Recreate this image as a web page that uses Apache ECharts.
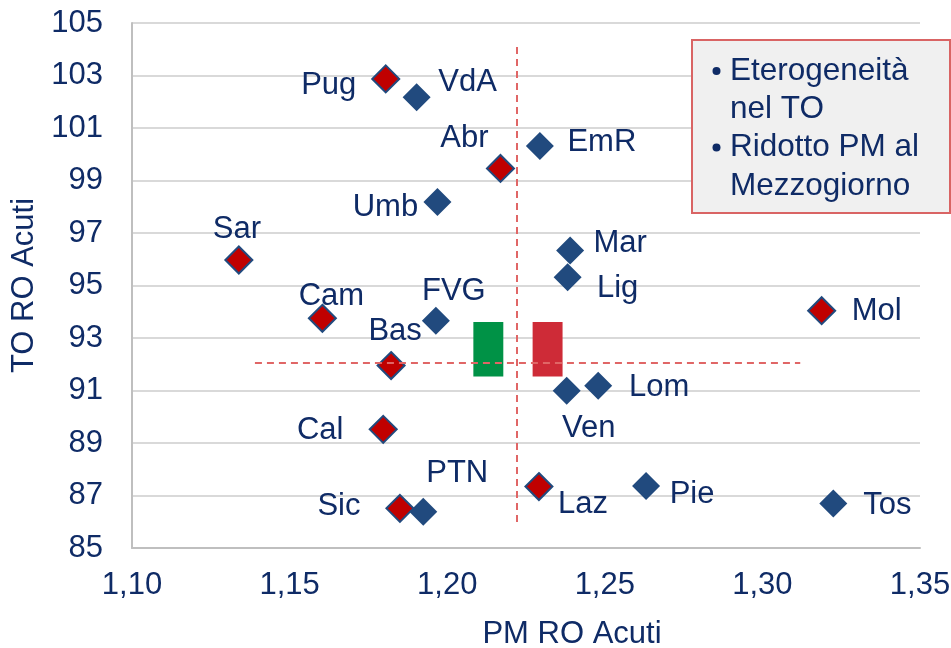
<!DOCTYPE html>
<html>
<head>
<meta charset="utf-8">
<script src="https://cdn.jsdelivr.net/npm/echarts@6/dist/echarts.min.js"></script>
<style>
html,body{margin:0;padding:0;background:#fff;overflow:hidden;}
#c{width:951px;height:648px;}
</style>
</head>
<body>
<div id="c"></div>
<script>
// ---- data ----
var regions = ['Pug','VdA','Abr','EmR','Umb','Sar','Mar','Lig','Cam','FVG','Mol','Bas','Ven','Lom','Cal','Laz','Pie','Tos','Sic','PTN'];
var pmRO    = [1.1805,1.1903,1.2169,1.2294,1.1969,1.1339,1.2390,1.2382,1.1604,1.1964,1.3188,1.1822,1.2379,1.2479,1.1797,1.2291,1.2631,1.3225,1.1850,1.1924];
var toRO    = [102.87,102.17,99.46,100.31,98.18,95.97,96.33,95.31,93.75,93.66,94.04,91.95,90.99,91.18,89.52,87.34,87.36,86.70,86.51,86.38];
var mezzogiorno = ['Pug','Abr','Sar','Cam','Mol','Bas','Cal','Laz','Sic'];
var xTickLabels = ['1,10','1,15','1,20','1,25','1,30','1,35'];
var yTickLabels = ['85','87','89','91','93','95','97','99','101','103','105'];
var refX = [1.2222];         // vertical reference (PM)
var refXRange = [104.09, 85.8];
var refY = [92.07];          // horizontal reference (TO)
var refYRange = [1.139, 1.312];
var flagGreen = [1.2083, 93.61, 1.2178, 91.53];
var flagRed   = [1.2271, 93.61, 1.2366, 91.53];
var noteLines = ['Eterogeneità', 'nel TO', 'Ridotto PM al', 'Mezzogiorno'];
var noteBullets = [true, false, true, false];

// ---- layout (label offsets in px, not data) ----
var labelOffsets = {
  Pug:[-57,7], VdA:[51,-15], Abr:[-36,-30], EmR:[62,-4], Umb:[-52,5], Sar:[-2,-31],
  Mar:[50,-7], Lig:[50,11], Cam:[9,-22], FVG:[18,-29], Mol:[55,1], Bas:[4,-34],
  Ven:[22,38], Lom:[61,2], Cal:[-63,1], Laz:[44,18], Pie:[46,8], Tos:[54,2],
  Sic:[-61,-2], PTN:[34,-38]
};

var TXT = '#0f2b66';
var BLUE = '#214a7e';
var RED = '#c00000';
var FONT = '"Liberation Sans", Arial, sans-serif';
var FS = 31;

function buildData(isRed){
  var out = [];
  for (var i=0;i<regions.length;i++){
    var r = mezzogiorno.indexOf(regions[i]) >= 0;
    if (r !== isRed) continue;
    out.push({name: regions[i], value:[pmRO[i], toRO[i]], label:{offset: labelOffsets[regions[i]]}});
  }
  return out;
}

var labelCfg = {show:true, position:'inside', formatter:'{b}', color:TXT, fontSize:FS, fontFamily:FONT, align:'center', verticalAlign:'middle'};

var chart = echarts.init(document.getElementById('c'), null, {renderer:'canvas', width:951, height:648});
var option = {
  animation:false,
  backgroundColor:'#ffffff',
  grid:{left:132, width:788, top:23, height:525, containLabel:false, outerBoundsMode:'none'},
  xAxis:{
    type:'value', min:1.10, max:1.35, interval:0.05,
    name:'PM RO Acuti', nameLocation:'middle', nameGap:71,
    nameTextStyle:{color:TXT, fontSize:FS, fontFamily:FONT, padding:[0,0,0,92]},
    axisLine:{show:true, lineStyle:{color:'#bfbfbf', width:2}},
    axisTick:{show:false},
    splitLine:{show:false},
    axisLabel:{color:TXT, fontSize:FS, fontFamily:FONT, margin:22,
      formatter:function(v){ return xTickLabels[Math.round((v-1.10)/0.05)]; }}
  },
  yAxis:{
    type:'value', min:85, max:105, interval:2,
    name:'TO RO Acuti', nameLocation:'middle', nameGap:87, nameRotate:90,
    nameTextStyle:{color:TXT, fontSize:FS, fontFamily:FONT},
    axisLine:{show:true, lineStyle:{color:'#bfbfbf', width:2}},
    axisTick:{show:false},
    splitLine:{show:true, lineStyle:{color:'#d9d9d9', width:2}},
    axisLabel:{color:TXT, fontSize:FS, fontFamily:FONT, margin:29,
      formatter:function(v){ return yTickLabels[Math.round((v-85)/2)]; }}
  },
  series:[
    {
      type:'scatter', name:'Nord-Centro', symbol:'diamond', symbolSize:28,
      itemStyle:{color:BLUE, opacity:1},
      label:labelCfg,
      data:buildData(false),
      z:3,
      markLine:{
        silent:true, symbol:['none','none'],
        lineStyle:{color:'#e06666', type:[7,5], width:2},
        label:{show:false},
        data:[
          [{coord:[refX[0], refXRange[0]]},{coord:[refX[0], refXRange[1]]}],
          [{coord:[refYRange[0], refY[0]]},{coord:[refYRange[1], refY[0]]}]
        ]
      },
      markArea:{
        silent:true,
        label:{show:false},
        data:[
          [{coord:[flagGreen[0],flagGreen[1]], itemStyle:{color:'#009246', opacity:1}},{coord:[flagGreen[2],flagGreen[3]]}],
          [{coord:[flagRed[0],flagRed[1]], itemStyle:{color:'#ce2b37', opacity:1}},{coord:[flagRed[2],flagRed[3]]}]
        ]
      }
    },
    {
      type:'scatter', name:'Mezzogiorno', symbol:'diamond', symbolSize:27,
      itemStyle:{color:RED, borderColor:BLUE, borderWidth:2, opacity:1},
      label:labelCfg,
      data:buildData(true),
      z:4
    }
  ],
  graphic:[]
};

// note box
var g = [{type:'rect', left:691, top:39, shape:{width:258, height:173},
  style:{fill:'#f0f0f0', stroke:'#d96464', lineWidth:2}, z:10}];
for (var i=0;i<noteLines.length;i++){
  var cy = 71 + i*38.3;
  g.push({type:'text', x:730, y:cy, style:{text:noteLines[i], fill:TXT, font:'31.5px "Liberation Sans", Arial, sans-serif', verticalAlign:'middle', align:'left'}, z:11});
  if (noteBullets[i]) g.push({type:'circle', shape:{cx:716.5, cy:cy, r:4}, style:{fill:TXT}, z:11});
}
option.graphic = g;
chart.setOption(option);
</script>
</body>
</html>
